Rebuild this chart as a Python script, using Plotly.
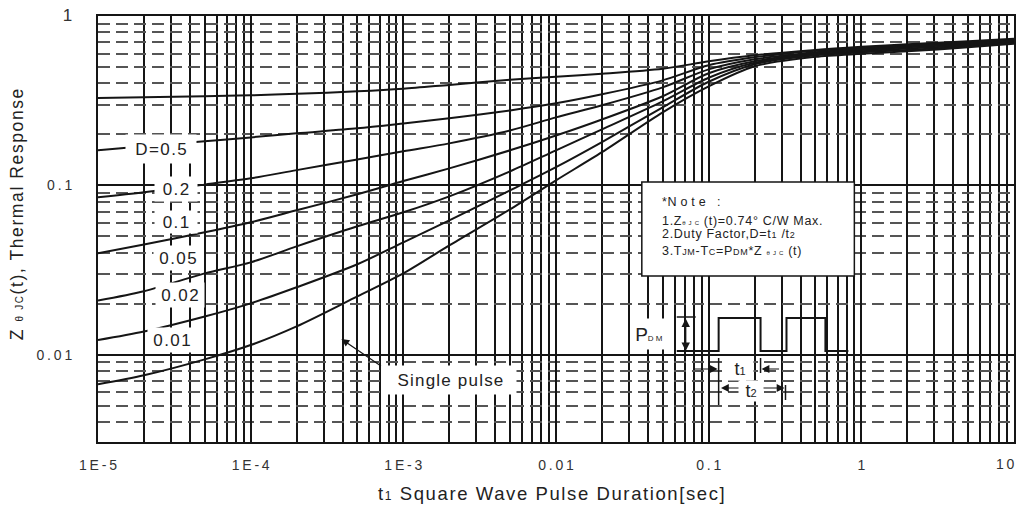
import math
import plotly.graph_objects as go

# ---------------------------------------------------------------- data
# square-wave pulse duration t1 [s]
t_sec = [1e-5, 2e-5, 5e-5, 1e-4, 2e-4, 5e-4, 1e-3, 2e-3, 5e-3,
         1e-2, 2e-2, 5e-2, 0.1, 0.2, 0.5, 1, 2, 5, 10]

# normalised transient thermal impedance Zth(jc) for each duty factor
zth_d050 = [0.328, 0.331, 0.336, 0.340, 0.347, 0.359, 0.372, 0.392, 0.420,
            0.438, 0.456, 0.488, 0.540, 0.586, 0.631, 0.658, 0.681, 0.709, 0.733]
zth_d020 = [0.161, 0.170, 0.182, 0.192, 0.203, 0.217, 0.232, 0.249, 0.277,
            0.305, 0.345, 0.417, 0.512, 0.570, 0.623, 0.649, 0.671, 0.699, 0.724]
zth_d010 = [0.0849, 0.0909, 0.101, 0.110, 0.123, 0.142, 0.159, 0.177, 0.211,
            0.252, 0.297, 0.379, 0.484, 0.555, 0.610, 0.640, 0.662, 0.690, 0.714]
zth_d005 = [0.0397, 0.0448, 0.0528, 0.0605, 0.0712, 0.0885, 0.106, 0.126, 0.161,
            0.197, 0.245, 0.336, 0.459, 0.540, 0.602, 0.631, 0.653, 0.681, 0.709]
zth_d002 = [0.0209, 0.0237, 0.0302, 0.0351, 0.0436, 0.0573, 0.0693, 0.0861, 0.121,
            0.161, 0.214, 0.313, 0.432, 0.529, 0.594, 0.619, 0.644, 0.671, 0.699]
zth_d001 = [0.0122, 0.0137, 0.0168, 0.0201, 0.0250, 0.0342, 0.0461, 0.0621, 0.0934,
            0.128, 0.180, 0.289, 0.409, 0.519, 0.586, 0.610, 0.631, 0.662, 0.695]
zth_single = [0.00668, 0.00755, 0.00938, 0.0114, 0.0147, 0.0221, 0.0302, 0.0442, 0.0722,
              0.107, 0.157, 0.270, 0.384, 0.505, 0.574, 0.598, 0.619, 0.653, 0.685]

series_names = ["D=0.5", "D=0.2", "D=0.1", "D=0.05", "D=0.02", "D=0.01", "Single pulse"]
series_values = [zth_d050, zth_d020, zth_d010, zth_d005, zth_d002, zth_d001, zth_single]

x_tickvals = [1e-5, 1e-4, 1e-3, 1e-2, 0.1, 1, 10]
x_ticktext = ["1E-5", "1E-4", "1E-3", "0.01", "0.1", "1", "10"]
y_tickvals = [0.01, 0.1, 1]
y_ticktext = ["0.01", "0.1", "1"]

x_range = [1e-5, 10]
y_range = [0.00305, 1]

# ---------------------------------------------------------------- layout helpers
W, H = 1021, 508
M_L, M_R, M_T, M_B = 98, 5, 16, 66
PW, PH = W - M_L - M_R, H - M_T - M_B


def px(x):
    """canvas x -> paper fraction"""
    return (x - M_L) / PW


def py(y):
    """canvas y -> paper fraction"""
    return (H - M_B - y) / PH


def spaced(s, gap="\u2009"):
    return gap.join(s)


def tracked(s, ls):
    """text with extra letter spacing"""
    return f"<span style='letter-spacing:{ls}px'>{s}</span>"


INK = "#151515"
TXT = "#222"
FONT = "Liberation Sans, Arial, sans-serif"

fig = go.Figure()

for name, vals in zip(series_names, series_values):
    fig.add_trace(go.Scatter(
        x=t_sec, y=vals, name=name, mode="lines",
        line=dict(color=INK, width=2, shape="spline", smoothing=0.8),
        hoverinfo="x+y+name", showlegend=False,
    ))

minor_x = [m * 10 ** e for e in range(-5, 1) for m in range(2, 10)]
minor_y = [m * 10 ** e for e in range(-3, 0) for m in range(2, 10)]

# the last x label sits at the right edge of the page; it is drawn
# separately (right-aligned) so it is not clipped
x_labels = [spaced(s) for s in x_ticktext[:-1]] + [""]
y_labels = [spaced(s) for s in y_ticktext[:-1]] + [
    f"<span style='font-size:17px'>{y_ticktext[-1]}</span>"]

fig.update_xaxes(
    type="log", range=[math.log10(x_range[0]), math.log10(x_range[1]) + 1e-4],
    tickmode="array", tickvals=x_tickvals, ticktext=x_labels,
    ticks="", ticklabelstandoff=9,
    tickfont=dict(family=FONT, size=14, color="#333"),
    showgrid=True, gridcolor=INK, gridwidth=2,
    minor=dict(tickvals=minor_x, showgrid=True, gridcolor=INK, gridwidth=2, ticks=""),
    showline=True, mirror=True, linecolor=INK, linewidth=2,
    zeroline=False,
)
fig.update_yaxes(
    type="log", range=[math.log10(y_range[0]), math.log10(y_range[1]) + 1e-4],
    tickmode="array", tickvals=y_tickvals, ticktext=y_labels,
    ticks="", ticklabelstandoff=21,
    tickfont=dict(family=FONT, size=14, color="#333"),
    showgrid=True, gridcolor=INK, gridwidth=2,
    minor=dict(tickvals=minor_y, showgrid=True, gridcolor="#555", gridwidth=1.5,
               griddash="12px,6px", ticks=""),
    showline=True, mirror=True, linecolor=INK, linewidth=2,
    zeroline=False,
)

shapes = []
annotations = []


def label(text, cx, cy, size, **kw):
    d = dict(xref="paper", yref="paper", x=px(cx), y=py(cy), xanchor="center",
             yanchor="middle", text=text, showarrow=False,
             font=dict(family=FONT, size=size, color=TXT))
    d.update(kw)
    annotations.append(d)


def arrow(x, y, ax, ay, **kw):
    d = dict(xref="paper", yref="paper", x=px(x), y=py(y), ax=ax, ay=ay,
             axref="pixel", ayref="pixel", text="", showarrow=True,
             arrowhead=2, arrowsize=1.3, arrowwidth=1.2, arrowcolor=INK)
    d.update(kw)
    annotations.append(d)


# right-most x tick label
annotations.append(dict(xref="x", yref="paper", x=math.log10(x_tickvals[-1]), y=py(464),
                        xanchor="right", yanchor="middle", xshift=3,
                        text=spaced(x_ticktext[-1]), showarrow=False,
                        font=dict(family=FONT, size=14, color="#333")))

# broken grid lines behind the duty-factor labels
for xv in (3e-5, 4e-5):
    shapes.append(dict(type="line", xref="x", yref="paper", x0=xv, x1=xv,
                       y0=py(362), y1=py(162), layer="between",
                       line=dict(color="white", width=3, dash="4px,11px")))

# duty-factor labels
for text, cx, cy, w, h in [("D=0.5", 161, 149, 68, 26), ("0.2", 176, 189, 40, 22),
                            ("0.1", 176, 222, 40, 20), ("0.05", 178, 258, 46, 22),
                            ("0.02", 180, 295, 46, 22), ("0.01", 172, 340, 46, 22)]:
    label(spaced(text, "\u200a"), cx, cy, 17, bgcolor="white", width=w, height=h)

# single pulse callout
arrow(342, 339, 41, 28)
label(tracked("Single pulse", 1.2), 452, 380, 17, bgcolor="white", width=128, height=26)

# note box
shapes.append(dict(type="rect", xref="paper", yref="paper", x0=px(643), x1=px(856),
                   y0=py(276), y1=py(182), fillcolor="white", layer="above",
                   line=dict(color=INK, width=1.5)))
small = "<span style='font-size:6px'>θ J C</span>"
note_lines = [
    ("*" + spaced("Note :"), 202),
    ("1.Z" + small + " (t)=0.74° C/W Max.", 221),
    ("2.Duty Factor,D=t<span style='font-size:9px'>1</span> /t<span style='font-size:9px'>2</span>", 234),
    ("3.T<span style='font-size:9px'>JM</span>-T<span style='font-size:9px'>C</span>="
     "P<span style='font-size:9px'>DM</span>*Z " + small + " (t)", 251),
]
for text, cy in note_lines:
    annotations.append(dict(xref="paper", yref="paper", x=px(661), y=py(cy), xanchor="left",
                            yanchor="middle", text=tracked(text, 0.7), showarrow=False,
                            align="left", font=dict(family=FONT, size=12.5, color=TXT)))

# pulse train schematic
pulse = [(678, 351), (720, 351), (720, 318), (762, 318), (762, 351), (788, 351),
         (788, 318), (827, 318), (827, 351), (850, 351)]
path = "M " + " L ".join(f"{px(a):.5f},{py(b):.5f}" for a, b in pulse)
shapes.append(dict(type="path", xref="paper", yref="paper", path=path, layer="above",
                   line=dict(color=INK, width=2)))
for (xa, ya, xb, yb) in [(678, 317, 697, 317), (720, 358, 720, 405),
                         (762, 358, 762, 373), (787, 385, 787, 400)]:
    shapes.append(dict(type="line", xref="paper", yref="paper", x0=px(xa), x1=px(xb),
                       y0=py(ya), y1=py(yb), layer="above", line=dict(color=INK, width=1.5)))

label("P<span style='font-size:8px'>D M</span>", 650, 334, 19,
      bgcolor="white", width=34, height=28)
arrow(687, 351, 0, -34, arrowside="end+start", startarrowhead=2, startarrowsize=1.3,
      arrowwidth=1.3)
arrow(719, 369, -26, 0)
arrow(763, 369, 19, 0)
arrow(786, 388, -65, 0, arrowside="end+start", startarrowhead=2, startarrowsize=1.3)
label("t<span style='font-size:11px'>1</span>", 741, 369, 18, bgcolor="white", width=24, height=20)
label("t<span style='font-size:11px'>2</span>", 752, 391, 18, bgcolor="white", width=22, height=18)

# axis titles
label(tracked("t<span style='font-size:12px'>1</span> Square Wave Pulse Duration[sec]", 1.6),
      553, 493, 18.5)
label(tracked("Z <span style='font-size:10px'>θ JC</span>(t), Thermal Response", 1.6),
      17, 214, 17.5, textangle=-90)

fig.update_layout(
    width=W, height=H,
    margin=dict(l=M_L, r=M_R, t=M_T, b=M_B),
    paper_bgcolor="white", plot_bgcolor="white",
    shapes=shapes, annotations=annotations,
    font=dict(family=FONT, color=TXT),
)

fig.write_html("out.html")
